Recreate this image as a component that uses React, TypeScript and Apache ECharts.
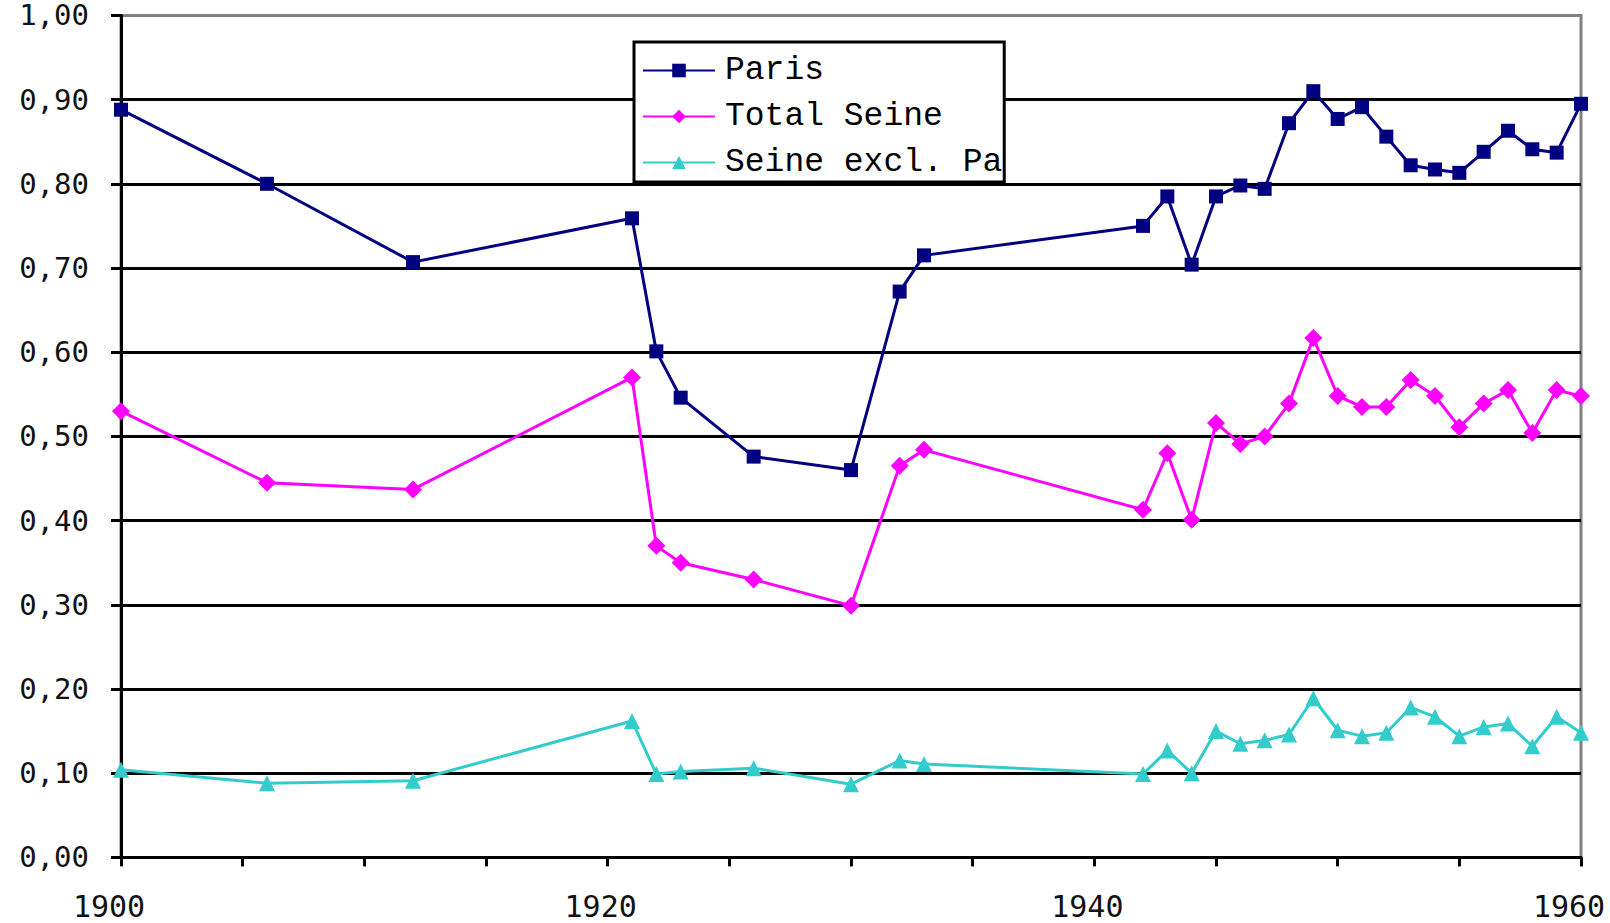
import React, { useEffect, useRef } from "react";
import * as echarts from "echarts";

const years = [1900, 1906, 1912, 1921, 1922, 1923, 1926, 1930, 1932, 1933, 1942, 1943, 1944, 1945, 1946, 1947, 1948, 1949, 1950, 1951, 1952, 1953, 1954, 1955, 1956, 1957, 1958, 1959, 1960];
const paris = [0.888, 0.8, 0.707, 0.759, 0.601, 0.546, 0.476, 0.46, 0.672, 0.715, 0.75, 0.785, 0.704, 0.785, 0.798, 0.794, 0.872, 0.91, 0.877, 0.891, 0.856, 0.822, 0.817, 0.813, 0.838, 0.863, 0.841, 0.837, 0.895];
const totalSeine = [0.53, 0.445, 0.437, 0.57, 0.37, 0.35, 0.33, 0.299, 0.465, 0.484, 0.413, 0.48, 0.401, 0.516, 0.491, 0.5, 0.539, 0.617, 0.548, 0.535, 0.535, 0.567, 0.548, 0.511, 0.539, 0.555, 0.504, 0.555, 0.548];
const seineExcl = [0.104, 0.088, 0.091, 0.162, 0.099, 0.102, 0.106, 0.087, 0.115, 0.111, 0.099, 0.127, 0.1, 0.15, 0.135, 0.139, 0.146, 0.189, 0.151, 0.144, 0.148, 0.178, 0.167, 0.144, 0.155, 0.159, 0.132, 0.167, 0.148];
const seriesNames = ["Paris", "Total Seine", "Seine excl. Pa"];
const xLabelYears = [1900, 1920, 1940, 1960];

const pairs = (vals: number[]) => years.map((y, i) => [y, vals[i]]);

export default function App() {
  const ref = useRef<HTMLDivElement>(null);
  useEffect(() => {
    if (!ref.current) return;
    const chart = echarts.init(ref.current, null, { renderer: "svg" });
    const splitColors = Array.from({ length: 11 }, (_, i) => (i === 10 ? "#808080" : "#000"));
    const labelFont = { fontFamily: "DejaVu Sans Mono", fontSize: 30, color: "#111", lineHeight: 30 };
    chart.setOption({
      animation: false,
      backgroundColor: "#fff",
      grid: {
        left: 121,
        right: 29,
        top: 15.4,
        bottom: 65.6,
        containLabel: false,
        outerBoundsMode: "none",
        show: true,
        borderColor: "#808080",
        borderWidth: 3,
        backgroundColor: "transparent",
      },
      legend: {
        orient: "vertical",
        left: 634,
        top: 42,
        itemWidth: 72,
        itemHeight: 17,
        itemGap: 13,
        padding: [12, 2, 3, 8],
        borderColor: "#000",
        borderWidth: 3,
        backgroundColor: "#fff",
        textStyle: {
          fontFamily: "Liberation Mono",
          fontSize: 33,
          lineHeight: 33,
          color: "#000",
          padding: [0, 0, 0, 5],
        },
        data: seriesNames,
      },
      xAxis: {
        type: "value",
        min: 1900,
        max: 1960,
        interval: 5,
        axisLine: { show: true, lineStyle: { color: "#000", width: 3 } },
        axisTick: { show: true, length: 9, lineStyle: { color: "#000", width: 3 } },
        splitLine: { show: false },
        axisLabel: {
          margin: 34,
          ...labelFont,
          formatter: (v: number) => {
            if (!xLabelYears.includes(v)) return "";
            if (v === 1900 || v === 1960) return `{e|${v}}`;
            return `{m|${v}}`;
          },
          rich: {
            e: { ...labelFont, padding: [0, 24, 0, 0] },
            m: { ...labelFont, padding: [0, 14, 0, 0] },
          },
        },
      },
      yAxis: {
        type: "value",
        min: 0,
        max: 1,
        interval: 0.1,
        axisLine: { show: true, lineStyle: { color: "#000", width: 3 } },
        axisTick: { show: true, length: 10, lineStyle: { color: "#000", width: 3 } },
        splitLine: { show: true, lineStyle: { color: splitColors, width: 3 } },
        axisLabel: {
          margin: 32,
          ...labelFont,
          fontSize: 29,
          lineHeight: 29,
          formatter: (v: number) => v.toFixed(2).replace(".", ","),
        },
      },
      series: [
        {
          name: seriesNames[0],
          type: "line",
          data: pairs(paris),
          symbol: "rect",
          symbolSize: 14,
          itemStyle: { color: "#000080" },
          lineStyle: { color: "#000080", width: 3 },
        },
        {
          name: seriesNames[1],
          type: "line",
          data: pairs(totalSeine),
          symbol: "diamond",
          symbolSize: 18,
          itemStyle: { color: "#FF00FF" },
          lineStyle: { color: "#FF00FF", width: 3 },
        },
        {
          name: seriesNames[2],
          type: "line",
          data: pairs(seineExcl),
          symbol: "triangle",
          symbolSize: 16,
          itemStyle: { color: "#33CCCC" },
          lineStyle: { color: "#33CCCC", width: 3 },
        },
      ],
    });
    return () => chart.dispose();
  }, []);
  return (
    <div
      ref={ref}
      style={{ position: "absolute", left: 0, top: 0, width: 1610, height: 923 }}
    />
  );
}
